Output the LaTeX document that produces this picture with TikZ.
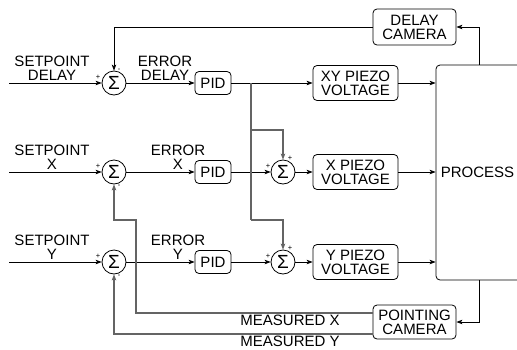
\documentclass[tikz,border=0pt]{standalone}
\usepackage{fontspec}
\setmainfont{Liberation Sans}
\usetikzlibrary{arrows.meta}
\begin{document}
\begin{tikzpicture}[x=1pt,y=-1pt,
  lbl/.style={font=\fontsize{15}{14}\selectfont, align=center, inner sep=0pt},
  blk/.style={draw, rounded corners=4pt, font=\fontsize{15}{14}\selectfont, align=center, inner sep=0pt, line width=0.8pt},
  sumnode/.style={draw, circle, minimum size=24pt, inner sep=0pt, line width=0.8pt, font=\fontsize{19}{19}\selectfont},
  sgn/.style={font=\fontsize{7.5}{7.5}\selectfont, inner sep=0pt},
  wire/.style={line width=0.8pt, -{Stealth[length=6pt,width=4.5pt,inset=1.5pt]}},
  gwire/.style={wire, draw={rgb,255:red,100;green,100;blue,100}, line width=1.2pt},
  gline/.style={draw={rgb,255:red,100;green,100;blue,100}, line width=1.2pt}
]
\useasboundingbox (0,0) rectangle (517,349);
\clip (0,0) rectangle (517,349);

% summing junctions
\node[sumnode] (s1) at (114,83) {Σ};
\node[sumnode] (s2) at (114,172) {Σ};
\node[sumnode] (s3) at (114,262) {Σ};
\node[sumnode] (s4) at (283,172) {Σ};
\node[sumnode] (s5) at (283,262) {Σ};

% PID blocks
\node[blk, minimum width=36pt, minimum height=23pt] (pid1) at (213,83) {PID};
\node[blk, minimum width=36pt, minimum height=23pt] (pid2) at (213,172) {PID};
\node[blk, minimum width=36pt, minimum height=23pt] (pid3) at (213,262) {PID};

% piezo blocks
\node[blk, minimum width=85pt, minimum height=35pt] (xy) at (355.5,83) {XY PIEZO\\VOLTAGE};
\node[blk, minimum width=85pt, minimum height=35pt] (xp) at (355.5,172) {X PIEZO\\VOLTAGE};
\node[blk, minimum width=85pt, minimum height=35pt] (yp) at (355.5,262) {Y PIEZO\\VOLTAGE};

% cameras
\node[blk, minimum width=83pt, minimum height=36pt] (dc) at (414.5,27) {DELAY\\CAMERA};
\node[blk, minimum width=83pt, minimum height=34pt] (pc) at (414.5,322) {POINTING\\CAMERA};

% process
\node[blk, minimum width=104pt, minimum height=215pt] (proc) at (488,172.5) {};
\node[lbl] (proctxt) at (477.5,172) {PROCESS};

% input labels
\node[lbl, anchor=south] (sp1) at (52,81) {SETPOINT\\DELAY};
\node[lbl, anchor=south] (sp2) at (52,170) {SETPOINT\\X};
\node[lbl, anchor=south] (sp3) at (52,260) {SETPOINT\\Y};
\node[lbl, anchor=south] (er1) at (165,81) {ERROR\\DELAY};
\node[lbl, anchor=south] (er2) at (178,170) {ERROR\\X};
\node[lbl, anchor=south] (er3) at (178,260) {ERROR\\Y};

% signs
\node[sgn] (g1a) at (98,77) {+};
\node[sgn] (g1b) at (119,70) {-};
\node[sgn] (g2a) at (98,166) {+};
\node[sgn] (g2b) at (119,186) {-};
\node[sgn] (g3a) at (98,256) {+};
\node[sgn] (g3b) at (119,276) {-};
\node[sgn] (g4a) at (268,166) {+};
\node[sgn] (g4b) at (290,158) {+};
\node[sgn] (g5a) at (268,256) {+};
\node[sgn] (g5b) at (290,248) {+};

% coordinates
\coordinate (in1) at (9,83);
\coordinate (in2) at (9,172);
\coordinate (in3) at (9,262);
\coordinate (br) at (251,83);
\coordinate (fb) at (479,0);
\coordinate (mx) at (136,220);

% forward wires
\draw[wire] (in1) -- (s1.west);
\draw[wire] (in2) -- (s2.west);
\draw[wire] (in3) -- (s3.west);
\draw[wire] (s1.east) -- (pid1.west);
\draw[wire] (s2.east) -- (pid2.west);
\draw[wire] (s3.east) -- (pid3.west);
\draw[wire] (pid1.east) -- (xy.west);
\draw[wire] (pid2.east) -- (s4.west);
\draw[wire] (pid3.east) -- (s5.west);
\draw[wire] (s4.east) -- (xp.west);
\draw[wire] (s5.east) -- (yp.west);
\draw[wire] (xy.east) -- (proc.west |- xy.east);
\draw[wire] (xp.east) -- (proc.west |- xp.east);
\draw[wire] (yp.east) -- (proc.west |- yp.east);

% branches
\draw[gline] (br) -- (251,220);
\draw[gwire] (251,130) -| (s4.north);
\draw[gwire] (251,220) -| (s5.north);

% feedback
\draw[wire] (proc.north -| fb) |- (dc.east);
\draw[wire] (dc.west) -| (s1.north);
\draw[wire] (proc.south -| fb) |- (pc.east);
\draw[gwire] (pc.west |- 0,313) -| (mx) -| (s2.south);
\draw[gwire] (pc.west |- 0,334) -| (s3.south);

\node[lbl, fill=white, anchor=north, inner sep=0.5pt] (mlx) at (290,314) {MEASURED X};
\node[lbl, fill=white, anchor=north, inner sep=0.5pt] (mly) at (290,335) {MEASURED Y};
\end{tikzpicture}
\end{document}
